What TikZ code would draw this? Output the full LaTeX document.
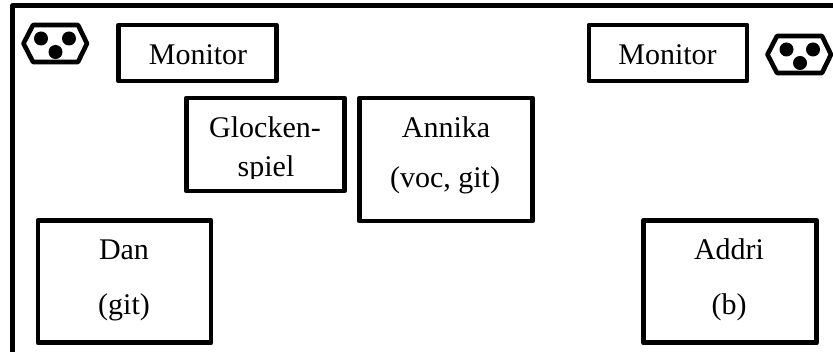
\documentclass[tikz,border=0pt]{standalone}
\usepackage{fontspec}
\setmainfont{Liberation Serif}
\begin{document}
\begin{tikzpicture}[x=1pt,y=-1pt,
  box/.style={draw=black,line width=4.9pt,line join=round,fill=white,inner sep=0pt,outer sep=0pt},
  txt/.style={anchor=base,inner sep=0pt,outer sep=0pt,font=\fontsize{30}{30}\selectfont,text=black},
  frameline/.style={draw=black,line width=4.9pt,line join=round},
  sockethex/.style={draw=black,line width=4.6pt,line join=round},
  socketdot/.style={circle,fill=black,minimum size=14pt,inner sep=0pt,outer sep=0pt},
]
\useasboundingbox (0,0) rectangle (833,352);
\fill[white] (0,0) rectangle (833,352);
% outer frame
\coordinate (frameA) at (12.5,352);
\coordinate (frameB) at (12.5,5.8);
\coordinate (frameC) at (833,5.8);
\draw[frameline] (frameA) -- (frameB) -- (frameC);
% sockets
\draw[sockethex] (23.5,43.5) -- (33,25) -- (78,25) -- (87,43.5) -- (78,62) -- (33,62) -- cycle;
\node[socketdot] (s1a) at (41,38.5) {};
\node[socketdot] (s1b) at (69,38.5) {};
\node[socketdot] (s1c) at (55.5,52) {};
\draw[sockethex] (767.5,54.5) -- (777,36) -- (822,36) -- (831,54.5) -- (822,73) -- (777,73) -- cycle;
\node[socketdot] (s2a) at (786.5,49.5) {};
\node[socketdot] (s2b) at (813,49.5) {};
\node[socketdot] (s2c) at (800,63) {};
% boxes
\node[box,minimum width=157.5pt,minimum height=56pt] (mon1) at (197.5,53) {};
\node[box,minimum width=158pt,minimum height=56pt] (mon2) at (668,53) {};
\node[box,minimum width=158pt,minimum height=93pt] (glock) at (265.5,144.5) {};
\node[box,minimum width=173pt,minimum height=123pt] (annika) at (446,159.5) {};
\node[box,minimum width=173pt,minimum height=122.5pt] (dan) at (124.5,281.7) {};
\node[box,minimum width=173.5pt,minimum height=122.5pt] (addri) at (730,281.7) {};
% text
\node[txt] (t1) at (198,65) {Monitor};
\node[txt] (t2) at (667.5,65) {Monitor};
\node[txt] (t3) at (265,138) {Glocken-};
\begin{scope}
\clip (190,150) rectangle (342,178.5);
\node[txt] (t4) at (266,177) {spiel};
\end{scope}
\node[txt] (t5) at (446,138) {Annika};
\node[txt] (t6) at (445,188) {(voc, git)};
\node[txt] (t7) at (124,260) {Dan};
\node[txt] (t8) at (124,315) {(git)};
\node[txt] (t9) at (729,260) {Addri};
\node[txt] (t10) at (729,315) {(b)};
\end{tikzpicture}
\end{document}
